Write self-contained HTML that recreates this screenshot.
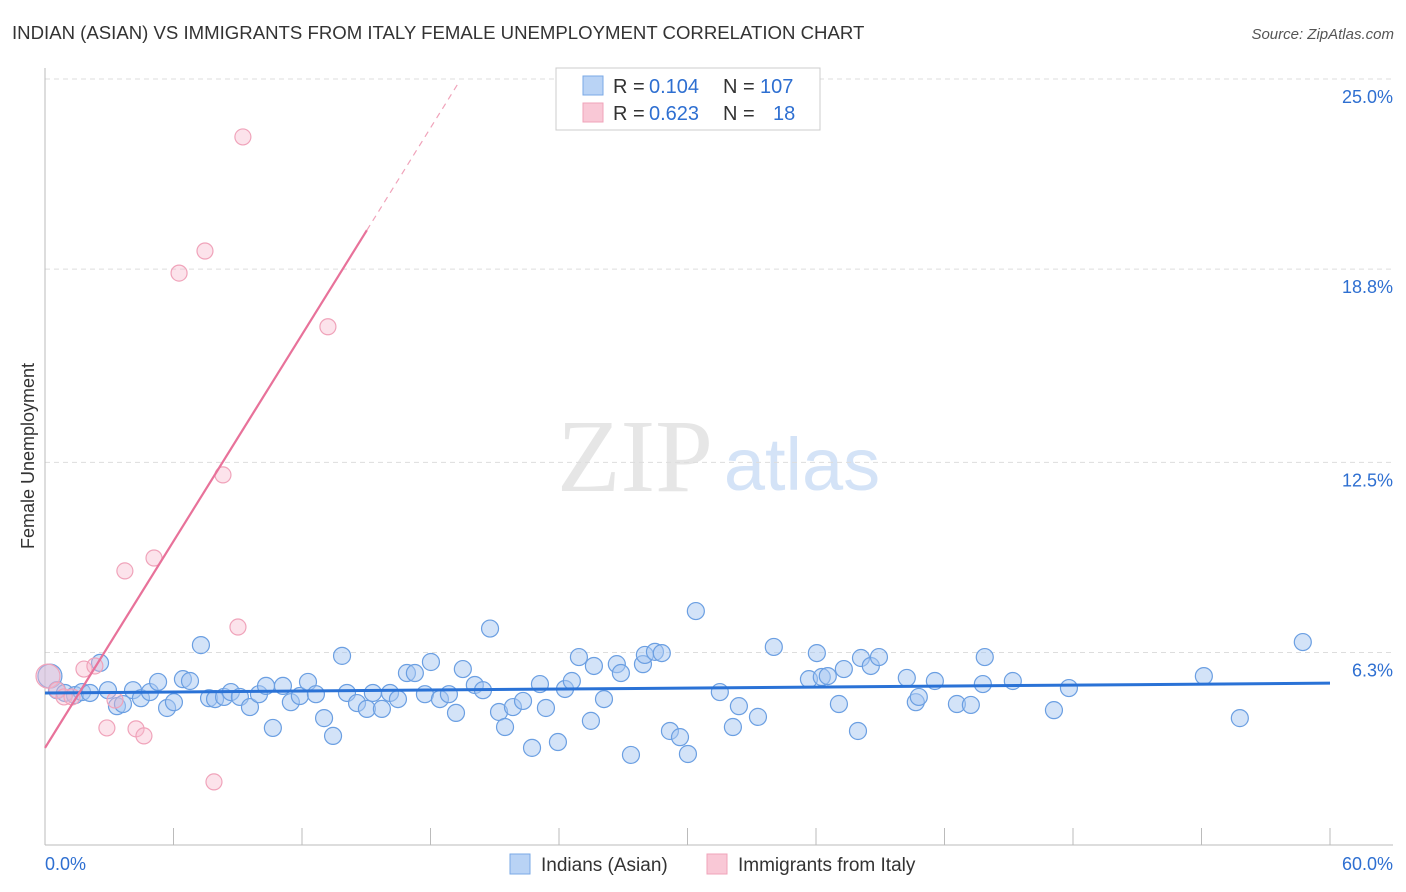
<!DOCTYPE html>
<html><head><meta charset="utf-8">
<style>
body{margin:0;background:#fff;font-family:"Liberation Sans",sans-serif;}
#wrap{position:relative;width:1406px;height:892px;overflow:hidden;}
</style></head>
<body>
<div id="wrap">
<svg id="chart" width="1406" height="892" xmlns="http://www.w3.org/2000/svg">
<text x="12" y="39" font-size="18.6" fill="#333">INDIAN (ASIAN) VS IMMIGRANTS FROM ITALY FEMALE UNEMPLOYMENT CORRELATION CHART</text>
<text x="1394" y="39" font-size="15" fill="#555" font-style="italic" text-anchor="end">Source: ZipAtlas.com</text>
<text x="635" y="491" font-size="104" fill="#e6e6e6" font-family="Liberation Serif,serif" text-anchor="middle">ZIP</text>
<text x="802" y="490" font-size="74" fill="#d4e3f7" text-anchor="middle">atlas</text>
<text transform="translate(34,456) rotate(-90)" font-size="18" fill="#333" text-anchor="middle">Female Unemployment</text>
<g id="grid"></g>
<g id="axes"></g>
<g id="pts"></g>
<g id="lines"></g>
<g>
<rect x="556" y="68" width="264" height="62" fill="#fff" stroke="#ccc"/>
<rect x="583" y="76" width="20" height="19" fill="#b9d3f5" stroke="#7aa8e6"/>
<rect x="583" y="103" width="20" height="19" fill="#f9c8d6" stroke="#f0a3ba"/>
<text x="613" y="93" font-size="20" fill="#333">R =</text><text x="649" y="93" font-size="20" fill="#2e6fd1">0.104</text>
<text x="723" y="93" font-size="20" fill="#333">N =</text><text x="760" y="93" font-size="20" fill="#2e6fd1">107</text>
<text x="613" y="120" font-size="20" fill="#333">R =</text><text x="649" y="120" font-size="20" fill="#2e6fd1">0.623</text>
<text x="723" y="120" font-size="20" fill="#333">N =</text><text x="773" y="120" font-size="20" fill="#2e6fd1">18</text>
</g>
<g>
<rect x="510" y="854" width="20" height="20" fill="#b9d3f5" stroke="#7aa8e6"/>
<text x="541" y="871" font-size="19" fill="#333">Indians (Asian)</text>
<rect x="707" y="854" width="20" height="20" fill="#f9c8d6" stroke="#f0a3ba"/>
<text x="738" y="871" font-size="19" fill="#333">Immigrants from Italy</text>
</g>
</svg>
</div>
<script>
const yTicks=[25.0,18.8,12.5,6.3];
const yTickLabels=["25.0%","18.8%","12.5%","6.3%"];
const xTickLabels=["0.0%","60.0%"];
const blueX=[0.23,0.56,0.93,1.40,1.73,2.10,2.57,2.94,3.36,3.64,4.11,4.48,4.90,5.28,5.70,6.02,6.44,6.77,7.28,7.66,7.94,8.36,8.68,9.10,9.57,9.99,10.32,10.64,11.11,11.48,11.90,12.28,12.65,13.03,13.45,13.87,14.10,14.57,15.03,15.31,15.73,16.11,16.48,16.90,17.27,17.74,18.02,18.44,18.86,19.19,19.51,20.07,20.45,20.78,21.20,21.48,21.85,22.32,22.74,23.11,23.39,23.95,24.28,24.60,24.93,25.49,25.63,26.10,26.70,26.89,27.36,27.92,28.01,28.48,28.80,29.18,29.65,30.02,30.39,31.51,32.12,32.40,33.29,34.03,35.67,36.04,36.27,36.55,37.07,37.30,37.96,38.10,38.56,38.94,40.24,40.66,40.80,41.55,42.58,43.23,43.88,43.79,45.19,47.11,47.81,54.11,55.79,58.73];
const blueY=[5.53,5.07,4.98,4.91,5.01,4.98,5.96,5.07,4.55,4.62,5.07,4.81,5.01,5.34,4.49,4.68,5.43,5.37,6.54,4.81,4.78,4.85,5.01,4.85,4.52,4.94,5.21,3.84,5.21,4.68,4.88,5.34,4.94,4.16,3.58,6.19,4.98,4.65,4.46,4.98,4.46,4.98,4.78,5.63,5.63,4.94,5.99,4.78,4.94,4.33,5.76,5.24,5.07,7.08,4.36,3.87,4.52,4.72,3.19,5.27,4.49,3.38,5.11,5.37,6.15,4.07,5.86,4.78,5.92,5.63,2.96,5.92,6.22,6.32,6.28,3.74,3.54,2.99,7.65,5.01,3.87,4.55,4.20,6.48,5.43,6.28,5.50,5.53,4.62,5.76,3.74,6.12,5.86,6.15,5.47,4.68,4.85,5.37,4.62,4.59,6.15,5.27,5.37,4.42,5.14,5.53,4.16,6.64];
const pinkX=[0.14,0.56,0.89,1.26,1.82,2.33,2.89,3.27,3.73,4.25,4.62,5.09,6.26,7.47,8.31,9.01,9.24,7.89,13.21];
const pinkY=[5.53,5.07,4.85,4.85,5.76,5.86,3.84,4.75,8.96,3.81,3.58,9.38,18.67,19.39,12.09,7.13,23.11,2.08,16.92];
const blueTrend=[4.98,5.30];
const pinkTrend=[3.19,1.123];

const X0=45,X1=1330,YB=845.7,PXY=30.67;
const sx=v=>X0+(X1-X0)*v/60;
const sy=v=>YB-v*PXY;
const NS="http://www.w3.org/2000/svg";
function mk(tag,attrs,parent){const e=document.createElementNS(NS,tag);for(const k in attrs)e.setAttribute(k,attrs[k]);parent.appendChild(e);return e;}
const grid=document.getElementById('grid'),axes=document.getElementById('axes'),pts=document.getElementById('pts'),lines=document.getElementById('lines');
yTicks.forEach((t,i)=>{
 const l=mk('line',{x1:45,x2:1393,y1:sy(t),y2:sy(t),stroke:'#ddd','stroke-dasharray':'5,4'},grid);
 
 
 const tx=mk('text',{x:1393,y:sy(t)+24,'font-size':18,fill:'#2e6fd1','text-anchor':'end'},grid);
 tx.textContent=yTickLabels[i];
 
 
});
const ax=mk('line',{x1:45,x2:1393,y1:845,y2:845,stroke:'#bbb'},axes);


const ay=mk('line',{x1:45,x2:45,y1:68,y2:845,stroke:'#bbb'},axes);


for(let k=0;k<=10;k++){const x=X0+(X1-X0)*k/10;const t=mk('line',{x1:x,x2:x,y1:828,y2:845,stroke:'#bbb'},axes);
 
 }
[[0,'start',45],[1,'end',1393]].forEach(([i,a,x])=>{const t=mk('text',{x:x,y:870,'font-size':18,fill:'#2e6fd1','text-anchor':a},axes);t.textContent=xTickLabels[i];
 
 });
blueX.forEach((v,i)=>{const r=i===0?12:8.5;const c=mk('circle',{cx:sx(v),cy:sy(blueY[i]),r:r,fill:'rgba(168,200,242,0.5)',stroke:'#6b9fe2','stroke-width':1.2},pts);
 
 });
pinkX.forEach((v,i)=>{const r=i===0?12:8;const c=mk('circle',{cx:sx(v),cy:sy(pinkY[i]),r:r,fill:'rgba(248,185,205,0.4)',stroke:'#f0a3ba','stroke-width':1.2},pts);
 
 });
const bl=mk('line',{x1:sx(0),y1:sy(blueTrend[0]),x2:sx(60),y2:sy(blueTrend[1]),stroke:'#2a72d6','stroke-width':3},lines);


const pe=15.03, pd=19.37;
const pl=mk('line',{x1:sx(0),y1:sy(pinkTrend[0]),x2:sx(pe),y2:sy(pinkTrend[0]+pinkTrend[1]*pe),stroke:'#e8729a','stroke-width':2.2},lines);


const pdl=mk('line',{x1:sx(pe),y1:sy(pinkTrend[0]+pinkTrend[1]*pe),x2:sx(pd),y2:sy(pinkTrend[0]+pinkTrend[1]*pd),stroke:'#f0a3ba','stroke-width':1.2,'stroke-dasharray':'6,5'},lines);


</script>
</body></html>
